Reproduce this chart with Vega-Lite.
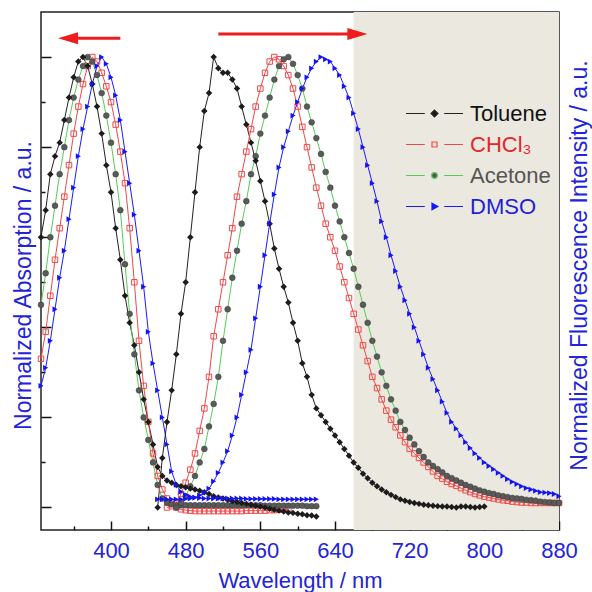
{
  "$schema": "https://vega.github.io/schema/vega-lite/v6.json",
  "width": 518,
  "height": 518,
  "autosize": {"type": "none"},
  "padding": {"left": 41, "top": 12, "right": 33, "bottom": 62},
  "background": "white",
  "config": {
    "view": {"stroke": "#222222", "strokeWidth": 1.5},
    "font": "Liberation Sans",
    "axis": {
      "grid": false, "domain": false, "tickColor": "#111111", "tickWidth": 1.5,
      "labelFont": "Liberation Sans", "titleFont": "Liberation Sans",
      "labelColor": "#2323d8", "titleColor": "#2323d8", "titleFontWeight": "normal",
      "labelFontSize": 22, "titleFontSize": 22, "labelOverlap": false, "labelFlush": false, "labelBound": false
    }
  },
  "datasets": {
    "shade": [{"start": 660, "end": 880}],
    "arrows": [
      {"dir": "left", "from": 410, "to": 358, "head": 354, "y": 1.042},
      {"dir": "right", "from": 515, "to": 658, "head": 664, "y": 1.051}
    ],
    "spectra": [
      {"kind": "abs", "wl": 325, "Toluene": 0.60, "CHCl3": 0.33, "Acetone": 0.45, "DMSO": 0.27},
      {"kind": "abs", "wl": 330, "Toluene": 0.66, "CHCl3": 0.39, "Acetone": 0.52, "DMSO": 0.31},
      {"kind": "abs", "wl": 335, "Toluene": 0.74, "CHCl3": 0.47, "Acetone": 0.60, "DMSO": 0.37},
      {"kind": "abs", "wl": 340, "Toluene": 0.78, "CHCl3": 0.55, "Acetone": 0.67, "DMSO": 0.44},
      {"kind": "abs", "wl": 345, "Toluene": 0.81, "CHCl3": 0.62, "Acetone": 0.74, "DMSO": 0.51},
      {"kind": "abs", "wl": 350, "Toluene": 0.86, "CHCl3": 0.69, "Acetone": 0.80, "DMSO": 0.57},
      {"kind": "abs", "wl": 355, "Toluene": 0.91, "CHCl3": 0.76, "Acetone": 0.86, "DMSO": 0.64},
      {"kind": "abs", "wl": 360, "Toluene": 0.955, "CHCl3": 0.83, "Acetone": 0.91, "DMSO": 0.71},
      {"kind": "abs", "wl": 365, "Toluene": 0.99, "CHCl3": 0.89, "Acetone": 0.95, "DMSO": 0.78},
      {"kind": "abs", "wl": 370, "Toluene": 1.0, "CHCl3": 0.94, "Acetone": 0.98, "DMSO": 0.84},
      {"kind": "abs", "wl": 375, "Toluene": 0.98, "CHCl3": 0.98, "Acetone": 1.0, "DMSO": 0.89},
      {"kind": "abs", "wl": 380, "Toluene": 0.94, "CHCl3": 1.0, "Acetone": 0.99, "DMSO": 0.94},
      {"kind": "abs", "wl": 385, "Toluene": 0.89, "CHCl3": 0.99, "Acetone": 0.96, "DMSO": 0.98},
      {"kind": "abs", "wl": 390, "Toluene": 0.83, "CHCl3": 0.965, "Acetone": 0.92, "DMSO": 1.0},
      {"kind": "abs", "wl": 395, "Toluene": 0.76, "CHCl3": 0.935, "Acetone": 0.87, "DMSO": 0.985},
      {"kind": "abs", "wl": 400, "Toluene": 0.70, "CHCl3": 0.90, "Acetone": 0.81, "DMSO": 0.955},
      {"kind": "abs", "wl": 405, "Toluene": 0.62, "CHCl3": 0.85, "Acetone": 0.74, "DMSO": 0.915},
      {"kind": "abs", "wl": 410, "Toluene": 0.55, "CHCl3": 0.79, "Acetone": 0.66, "DMSO": 0.86},
      {"kind": "abs", "wl": 415, "Toluene": 0.47, "CHCl3": 0.72, "Acetone": 0.54, "DMSO": 0.79},
      {"kind": "abs", "wl": 420, "Toluene": 0.41, "CHCl3": 0.62, "Acetone": 0.43, "DMSO": 0.72},
      {"kind": "abs", "wl": 425, "Toluene": 0.36, "CHCl3": 0.50, "Acetone": 0.34, "DMSO": 0.65},
      {"kind": "abs", "wl": 430, "Toluene": 0.30, "CHCl3": 0.37, "Acetone": 0.26, "DMSO": 0.57},
      {"kind": "abs", "wl": 435, "Toluene": 0.24, "CHCl3": 0.27, "Acetone": 0.20, "DMSO": 0.49},
      {"kind": "abs", "wl": 440, "Toluene": 0.19, "CHCl3": 0.19, "Acetone": 0.15, "DMSO": 0.39},
      {"kind": "abs", "wl": 445, "Toluene": 0.14, "CHCl3": 0.12, "Acetone": 0.10, "DMSO": 0.32},
      {"kind": "abs", "wl": 450, "Toluene": 0.09, "CHCl3": 0.07, "Acetone": 0.05, "DMSO": 0.26},
      {"kind": "abs", "wl": 455, "Toluene": 0.07, "CHCl3": 0.04, "Acetone": 0.02, "DMSO": 0.20},
      {"kind": "abs", "wl": 460, "Toluene": 0.06, "CHCl3": 0.02, "Acetone": 0.01, "DMSO": 0.14},
      {"kind": "abs", "wl": 465, "Toluene": 0.055, "CHCl3": 0.008, "Acetone": 0.007, "DMSO": 0.08},
      {"kind": "abs", "wl": 470, "Toluene": 0.05, "CHCl3": 0.0, "Acetone": 0.005, "DMSO": 0.05},
      {"kind": "abs", "wl": 475, "Toluene": 0.047, "CHCl3": -0.004, "Acetone": 0.005, "DMSO": 0.035},
      {"kind": "abs", "wl": 480, "Toluene": 0.045, "CHCl3": -0.006, "Acetone": 0.005, "DMSO": 0.028},
      {"kind": "abs", "wl": 485, "Toluene": 0.042, "CHCl3": -0.007, "Acetone": 0.005, "DMSO": 0.024},
      {"kind": "abs", "wl": 490, "Toluene": 0.04, "CHCl3": -0.008, "Acetone": 0.005, "DMSO": 0.022},
      {"kind": "abs", "wl": 495, "Toluene": 0.037, "CHCl3": -0.008, "Acetone": 0.005, "DMSO": 0.021},
      {"kind": "abs", "wl": 500, "Toluene": 0.034, "CHCl3": -0.008, "Acetone": 0.005, "DMSO": 0.02},
      {"kind": "abs", "wl": 505, "Toluene": 0.03, "CHCl3": -0.008, "Acetone": 0.005, "DMSO": 0.02},
      {"kind": "abs", "wl": 510, "Toluene": 0.025, "CHCl3": -0.008, "Acetone": 0.005, "DMSO": 0.02},
      {"kind": "abs", "wl": 515, "Toluene": 0.022, "CHCl3": -0.008, "Acetone": 0.005, "DMSO": 0.02},
      {"kind": "abs", "wl": 520, "Toluene": 0.02, "CHCl3": -0.008, "Acetone": 0.005, "DMSO": 0.02},
      {"kind": "abs", "wl": 525, "Toluene": 0.017, "CHCl3": -0.008, "Acetone": 0.005, "DMSO": 0.02},
      {"kind": "abs", "wl": 530, "Toluene": 0.014, "CHCl3": -0.008, "Acetone": 0.005, "DMSO": 0.02},
      {"kind": "abs", "wl": 535, "Toluene": 0.012, "CHCl3": -0.008, "Acetone": 0.005, "DMSO": 0.02},
      {"kind": "abs", "wl": 540, "Toluene": 0.01, "CHCl3": -0.008, "Acetone": 0.005, "DMSO": 0.02},
      {"kind": "abs", "wl": 545, "Toluene": 0.008, "CHCl3": -0.007, "Acetone": 0.005, "DMSO": 0.019},
      {"kind": "abs", "wl": 550, "Toluene": 0.006, "CHCl3": -0.007, "Acetone": 0.005, "DMSO": 0.019},
      {"kind": "abs", "wl": 555, "Toluene": 0.004, "CHCl3": -0.007, "Acetone": 0.005, "DMSO": 0.019},
      {"kind": "abs", "wl": 560, "Toluene": 0.002, "CHCl3": -0.007, "Acetone": 0.005, "DMSO": 0.019},
      {"kind": "abs", "wl": 565, "Toluene": 0.0, "CHCl3": -0.007, "Acetone": 0.004, "DMSO": 0.019},
      {"kind": "abs", "wl": 570, "Toluene": -0.003, "CHCl3": -0.006, "Acetone": 0.004, "DMSO": 0.019},
      {"kind": "abs", "wl": 575, "Toluene": -0.005, "CHCl3": -0.006, "Acetone": 0.004, "DMSO": 0.019},
      {"kind": "abs", "wl": 580, "Toluene": -0.007, "CHCl3": -0.005, "Acetone": 0.004, "DMSO": 0.018},
      {"kind": "abs", "wl": 585, "Toluene": -0.009, "CHCl3": -0.005, "Acetone": 0.004, "DMSO": 0.018},
      {"kind": "abs", "wl": 590, "Toluene": -0.011, "CHCl3": -0.004, "Acetone": 0.004, "DMSO": 0.018},
      {"kind": "abs", "wl": 595, "Toluene": -0.012, "Acetone": 0.004, "DMSO": 0.018},
      {"kind": "abs", "wl": 600, "Toluene": -0.014, "Acetone": 0.004, "DMSO": 0.018},
      {"kind": "abs", "wl": 605, "Toluene": -0.015, "Acetone": 0.004, "DMSO": 0.018},
      {"kind": "abs", "wl": 610, "Toluene": -0.017, "Acetone": 0.003, "DMSO": 0.018},
      {"kind": "abs", "wl": 615, "Toluene": -0.018, "Acetone": 0.003, "DMSO": 0.018},
      {"kind": "abs", "wl": 620, "Toluene": -0.02, "Acetone": 0.003, "DMSO": 0.018},
      {"kind": "fl", "wl": 450, "Toluene": 0.0, "DMSO": 0.018},
      {"kind": "fl", "wl": 455, "Toluene": 0.11, "DMSO": 0.018},
      {"kind": "fl", "wl": 460, "Toluene": 0.19, "CHCl3": 0.0, "DMSO": 0.018},
      {"kind": "fl", "wl": 465, "Toluene": 0.26, "CHCl3": 0.003, "DMSO": 0.018},
      {"kind": "fl", "wl": 470, "Toluene": 0.34, "CHCl3": 0.01, "Acetone": 0.0, "DMSO": 0.018},
      {"kind": "fl", "wl": 475, "Toluene": 0.43, "CHCl3": 0.03, "Acetone": 0.01, "DMSO": 0.018},
      {"kind": "fl", "wl": 480, "Toluene": 0.50, "CHCl3": 0.055, "Acetone": 0.025, "DMSO": 0.019},
      {"kind": "fl", "wl": 485, "Toluene": 0.60, "CHCl3": 0.084, "Acetone": 0.047, "DMSO": 0.02},
      {"kind": "fl", "wl": 490, "Toluene": 0.70, "CHCl3": 0.12, "Acetone": 0.07, "DMSO": 0.022},
      {"kind": "fl", "wl": 495, "Toluene": 0.80, "CHCl3": 0.17, "Acetone": 0.10, "DMSO": 0.027},
      {"kind": "fl", "wl": 500, "Toluene": 0.88, "CHCl3": 0.22, "Acetone": 0.13, "DMSO": 0.033},
      {"kind": "fl", "wl": 505, "Toluene": 0.92, "CHCl3": 0.29, "Acetone": 0.18, "DMSO": 0.042},
      {"kind": "fl", "wl": 510, "Toluene": 1.0, "CHCl3": 0.38, "Acetone": 0.23, "DMSO": 0.058},
      {"kind": "fl", "wl": 515, "Toluene": 0.975, "CHCl3": 0.44, "Acetone": 0.29, "DMSO": 0.077},
      {"kind": "fl", "wl": 520, "Toluene": 0.965, "CHCl3": 0.50, "Acetone": 0.37, "DMSO": 0.10},
      {"kind": "fl", "wl": 525, "Toluene": 0.965, "CHCl3": 0.56, "Acetone": 0.44, "DMSO": 0.125},
      {"kind": "fl", "wl": 530, "Toluene": 0.95, "CHCl3": 0.62, "Acetone": 0.51, "DMSO": 0.16},
      {"kind": "fl", "wl": 535, "Toluene": 0.93, "CHCl3": 0.69, "Acetone": 0.57, "DMSO": 0.20},
      {"kind": "fl", "wl": 540, "Toluene": 0.89, "CHCl3": 0.74, "Acetone": 0.63, "DMSO": 0.25},
      {"kind": "fl", "wl": 545, "Toluene": 0.85, "CHCl3": 0.79, "Acetone": 0.68, "DMSO": 0.30},
      {"kind": "fl", "wl": 550, "Toluene": 0.81, "CHCl3": 0.84, "Acetone": 0.74, "DMSO": 0.35},
      {"kind": "fl", "wl": 555, "Toluene": 0.77, "CHCl3": 0.89, "Acetone": 0.78, "DMSO": 0.42},
      {"kind": "fl", "wl": 560, "Toluene": 0.725, "CHCl3": 0.93, "Acetone": 0.83, "DMSO": 0.49},
      {"kind": "fl", "wl": 565, "Toluene": 0.68, "CHCl3": 0.965, "Acetone": 0.87, "DMSO": 0.56},
      {"kind": "fl", "wl": 570, "Toluene": 0.63, "CHCl3": 0.99, "Acetone": 0.91, "DMSO": 0.63},
      {"kind": "fl", "wl": 575, "Toluene": 0.575, "CHCl3": 1.0, "Acetone": 0.95, "DMSO": 0.695},
      {"kind": "fl", "wl": 580, "Toluene": 0.53, "CHCl3": 0.995, "Acetone": 0.98, "DMSO": 0.755},
      {"kind": "fl", "wl": 585, "Toluene": 0.49, "CHCl3": 0.98, "Acetone": 0.995, "DMSO": 0.80},
      {"kind": "fl", "wl": 590, "Toluene": 0.455, "CHCl3": 0.96, "Acetone": 1.0, "DMSO": 0.835},
      {"kind": "fl", "wl": 595, "Toluene": 0.41, "CHCl3": 0.93, "Acetone": 0.985, "DMSO": 0.87},
      {"kind": "fl", "wl": 600, "Toluene": 0.37, "CHCl3": 0.89, "Acetone": 0.96, "DMSO": 0.90},
      {"kind": "fl", "wl": 605, "Toluene": 0.32, "CHCl3": 0.845, "Acetone": 0.93, "DMSO": 0.93},
      {"kind": "fl", "wl": 610, "Toluene": 0.29, "CHCl3": 0.80, "Acetone": 0.89, "DMSO": 0.955},
      {"kind": "fl", "wl": 615, "Toluene": 0.25, "CHCl3": 0.755, "Acetone": 0.855, "DMSO": 0.975},
      {"kind": "fl", "wl": 620, "Toluene": 0.22, "CHCl3": 0.71, "Acetone": 0.82, "DMSO": 0.99},
      {"kind": "fl", "wl": 625, "Toluene": 0.205, "CHCl3": 0.67, "Acetone": 0.785, "DMSO": 1.0},
      {"kind": "fl", "wl": 630, "Toluene": 0.19, "CHCl3": 0.63, "Acetone": 0.745, "DMSO": 0.995},
      {"kind": "fl", "wl": 635, "Toluene": 0.175, "CHCl3": 0.60, "Acetone": 0.71, "DMSO": 0.99},
      {"kind": "fl", "wl": 640, "Toluene": 0.16, "CHCl3": 0.57, "Acetone": 0.67, "DMSO": 0.975},
      {"kind": "fl", "wl": 645, "Toluene": 0.145, "CHCl3": 0.535, "Acetone": 0.635, "DMSO": 0.96},
      {"kind": "fl", "wl": 650, "Toluene": 0.13, "CHCl3": 0.50, "Acetone": 0.60, "DMSO": 0.935},
      {"kind": "fl", "wl": 655, "Toluene": 0.115, "CHCl3": 0.465, "Acetone": 0.565, "DMSO": 0.91},
      {"kind": "fl", "wl": 660, "Toluene": 0.10, "CHCl3": 0.43, "Acetone": 0.53, "DMSO": 0.875},
      {"kind": "fl", "wl": 665, "Toluene": 0.088, "CHCl3": 0.395, "Acetone": 0.49, "DMSO": 0.84},
      {"kind": "fl", "wl": 670, "Toluene": 0.075, "CHCl3": 0.36, "Acetone": 0.45, "DMSO": 0.80},
      {"kind": "fl", "wl": 675, "Toluene": 0.065, "CHCl3": 0.325, "Acetone": 0.41, "DMSO": 0.76},
      {"kind": "fl", "wl": 680, "Toluene": 0.055, "CHCl3": 0.29, "Acetone": 0.37, "DMSO": 0.72},
      {"kind": "fl", "wl": 685, "Toluene": 0.047, "CHCl3": 0.265, "Acetone": 0.335, "DMSO": 0.68},
      {"kind": "fl", "wl": 690, "Toluene": 0.04, "CHCl3": 0.24, "Acetone": 0.30, "DMSO": 0.635},
      {"kind": "fl", "wl": 695, "Toluene": 0.034, "CHCl3": 0.215, "Acetone": 0.27, "DMSO": 0.60},
      {"kind": "fl", "wl": 700, "Toluene": 0.028, "CHCl3": 0.195, "Acetone": 0.24, "DMSO": 0.56},
      {"kind": "fl", "wl": 705, "Toluene": 0.023, "CHCl3": 0.178, "Acetone": 0.215, "DMSO": 0.525},
      {"kind": "fl", "wl": 710, "Toluene": 0.018, "CHCl3": 0.16, "Acetone": 0.19, "DMSO": 0.49},
      {"kind": "fl", "wl": 715, "Toluene": 0.015, "CHCl3": 0.145, "Acetone": 0.172, "DMSO": 0.46},
      {"kind": "fl", "wl": 720, "Toluene": 0.012, "CHCl3": 0.13, "Acetone": 0.155, "DMSO": 0.43},
      {"kind": "fl", "wl": 725, "Toluene": 0.01, "CHCl3": 0.12, "Acetone": 0.14, "DMSO": 0.40},
      {"kind": "fl", "wl": 730, "Toluene": 0.008, "CHCl3": 0.11, "Acetone": 0.125, "DMSO": 0.37},
      {"kind": "fl", "wl": 735, "Toluene": 0.006, "CHCl3": 0.10, "Acetone": 0.112, "DMSO": 0.34},
      {"kind": "fl", "wl": 740, "Toluene": 0.005, "CHCl3": 0.09, "Acetone": 0.10, "DMSO": 0.31},
      {"kind": "fl", "wl": 745, "Toluene": 0.004, "CHCl3": 0.08, "Acetone": 0.092, "DMSO": 0.285},
      {"kind": "fl", "wl": 750, "Toluene": 0.003, "CHCl3": 0.07, "Acetone": 0.085, "DMSO": 0.26},
      {"kind": "fl", "wl": 755, "Toluene": 0.002, "CHCl3": 0.064, "Acetone": 0.078, "DMSO": 0.235},
      {"kind": "fl", "wl": 760, "Toluene": 0.002, "CHCl3": 0.057, "Acetone": 0.07, "DMSO": 0.21},
      {"kind": "fl", "wl": 765, "Toluene": 0.001, "CHCl3": 0.052, "Acetone": 0.065, "DMSO": 0.19},
      {"kind": "fl", "wl": 770, "Toluene": 0.0, "CHCl3": 0.048, "Acetone": 0.06, "DMSO": 0.175},
      {"kind": "fl", "wl": 775, "Toluene": 0.002, "CHCl3": 0.043, "Acetone": 0.055, "DMSO": 0.16},
      {"kind": "fl", "wl": 780, "Toluene": 0.002, "CHCl3": 0.038, "Acetone": 0.05, "DMSO": 0.145},
      {"kind": "fl", "wl": 785, "Toluene": 0.001, "CHCl3": 0.034, "Acetone": 0.046, "DMSO": 0.132},
      {"kind": "fl", "wl": 790, "Toluene": 0.0, "CHCl3": 0.03, "Acetone": 0.042, "DMSO": 0.12},
      {"kind": "fl", "wl": 795, "Toluene": 0.001, "CHCl3": 0.027, "Acetone": 0.038, "DMSO": 0.11},
      {"kind": "fl", "wl": 800, "Toluene": 0.002, "CHCl3": 0.024, "Acetone": 0.035, "DMSO": 0.10},
      {"kind": "fl", "wl": 805, "CHCl3": 0.022, "Acetone": 0.032, "DMSO": 0.092},
      {"kind": "fl", "wl": 810, "CHCl3": 0.02, "Acetone": 0.03, "DMSO": 0.085},
      {"kind": "fl", "wl": 815, "CHCl3": 0.018, "Acetone": 0.027, "DMSO": 0.077},
      {"kind": "fl", "wl": 820, "CHCl3": 0.016, "Acetone": 0.025, "DMSO": 0.07},
      {"kind": "fl", "wl": 825, "CHCl3": 0.015, "Acetone": 0.023, "DMSO": 0.063},
      {"kind": "fl", "wl": 830, "CHCl3": 0.013, "Acetone": 0.021, "DMSO": 0.057},
      {"kind": "fl", "wl": 835, "CHCl3": 0.012, "Acetone": 0.02, "DMSO": 0.052},
      {"kind": "fl", "wl": 840, "CHCl3": 0.011, "Acetone": 0.019, "DMSO": 0.047},
      {"kind": "fl", "wl": 845, "CHCl3": 0.011, "Acetone": 0.017, "DMSO": 0.043},
      {"kind": "fl", "wl": 850, "CHCl3": 0.01, "Acetone": 0.016, "DMSO": 0.04},
      {"kind": "fl", "wl": 855, "CHCl3": 0.01, "Acetone": 0.015, "DMSO": 0.037},
      {"kind": "fl", "wl": 860, "CHCl3": 0.01, "Acetone": 0.013, "DMSO": 0.034},
      {"kind": "fl", "wl": 865, "CHCl3": 0.01, "Acetone": 0.012, "DMSO": 0.033},
      {"kind": "fl", "wl": 870, "CHCl3": 0.01, "Acetone": 0.011, "DMSO": 0.032},
      {"kind": "fl", "wl": 875, "CHCl3": 0.01, "Acetone": 0.01, "DMSO": 0.03},
      {"kind": "fl", "wl": 880, "CHCl3": 0.01, "Acetone": 0.01, "DMSO": 0.025}
    ]
  },
  "resolve": {"axis": {"x": "independent", "y": "independent"}},
  "layer": [
    {
      "data": {"name": "shade"},
      "mark": {"type": "rect", "color": "#ebe8df"},
      "encoding": {
        "x": {
          "field": "start", "type": "quantitative",
          "scale": {"domain": [325, 880], "nice": false, "zero": false},
          "axis": {
            "orient": "bottom", "values": [400, 480, 560, 640, 720, 800, 880],
            "tickSize": -9, "labelPadding": 19,
            "title": "Wavelength / nm", "titleY": 57, "titleBaseline": "alphabetic"
          }
        },
        "x2": {"field": "end"}
      }
    },
    {
      "data": {"name": "spectra"},
      "transform": [
        {"filter": "datum.kind === 'abs'"},
        {"fold": ["Toluene", "CHCl3", "Acetone", "DMSO"], "as": ["solvent", "v"]},
        {"filter": "isValid(datum.v)"}
      ],
      "mark": {"type": "line", "strokeWidth": 1},
      "encoding": {
        "x": {
          "field": "wl", "type": "quantitative",
          "scale": {"domain": [325, 880], "nice": false, "zero": false},
          "axis": {"orient": "bottom", "values": [360, 440, 520, 600, 680, 760, 840], "tickSize": -4, "labels": false, "title": null}
        },
        "y": {
          "field": "v", "type": "quantitative",
          "scale": {"domain": [-0.05, 1.1], "nice": false, "zero": false},
          "axis": {
            "orient": "left", "values": [0, 0.2, 0.4, 0.6, 0.8, 1.0], "tickSize": -10, "labels": false,
            "title": "Normalized Absorption / a.u.", "titleFontSize": 23, "titleAngle": -90,
            "titleX": -11, "titleY": 273, "titleBaseline": "alphabetic", "titleAlign": "center"
          }
        },
        "color": {
          "field": "solvent", "type": "nominal",
          "scale": {"domain": ["Toluene", "CHCl3", "Acetone", "DMSO"], "range": ["#222222", "#f04848", "#55cc55", "#1a1aff"]},
          "legend": {
            "orient": "none", "legendX": 381, "legendY": 89, "title": null, "padding": 0,
            "labelFont": "Liberation Sans", "labelFontSize": 22, "labelOffset": 23, "rowPadding": 7,
            "symbolSize": 520, "symbolStrokeWidth": 1.2, "symbolOpacity": 1,
            "symbolType": {"expr": "datum.value === 'Toluene' ? 'M-2.5,0H-0.85M0.85,0H2.5M0,-0.3L0.3,0L0,0.3L-0.3,0Z' : datum.value === 'CHCl3' ? 'M-2.5,0H-0.85M0.85,0H2.5M-0.22,-0.22H0.22V0.22H-0.22Z' : datum.value === 'Acetone' ? 'M-2.5,0H-0.85M0.85,0H2.5M-0.25,0A0.25,0.25,0,1,1,0.25,0A0.25,0.25,0,1,1,-0.25,0Z' : 'M-2.5,0H-0.85M0.85,0H2.5M-0.22,-0.28L0.3,0L-0.22,0.28Z'"},
            "symbolFillColor": {"expr": "datum.value === 'Toluene' ? '#1a1a1a' : datum.value === 'CHCl3' ? 'transparent' : datum.value === 'Acetone' ? '#555555' : '#1414f0'"},
            "labelColor": {"expr": "datum.value === 'Toluene' ? '#111111' : datum.value === 'CHCl3' ? '#e32626' : datum.value === 'Acetone' ? '#555555' : '#1f1fd6'"},
            "labelExpr": "datum.label === 'CHCl3' ? 'CHCl₃' : datum.label"
          }
        }
      }
    },
    {
      "data": {"name": "spectra"},
      "transform": [
        {"filter": "datum.kind === 'fl'"},
        {"fold": ["Toluene", "CHCl3", "Acetone", "DMSO"], "as": ["solvent", "v"]},
        {"filter": "isValid(datum.v)"}
      ],
      "mark": {"type": "line", "strokeWidth": 1},
      "encoding": {
        "x": {"field": "wl", "type": "quantitative", "axis": null},
        "y": {
          "field": "v", "type": "quantitative",
          "axis": {
            "orient": "right", "ticks": false, "labels": false,
            "title": "Normalized Fluorescence Intensity / a.u.", "titleFontSize": 23, "titleAngle": -90,
            "titleX": 27.5, "titleY": 253, "titleBaseline": "alphabetic", "titleAlign": "center"
          }
        },
        "color": {
          "field": "solvent", "type": "nominal",
          "scale": {"domain": ["Toluene", "CHCl3", "Acetone", "DMSO"], "range": ["#222222", "#f04848", "#55cc55", "#1a1aff"]}
        }
      }
    },
    {
      "data": {"name": "spectra"},
      "transform": [
        {"fold": ["Toluene", "CHCl3", "Acetone", "DMSO"], "as": ["solvent", "v"]},
        {"filter": "datum.solvent === 'CHCl3' && isValid(datum.v)"}
      ],
      "mark": {"type": "point", "shape": "square", "filled": false, "stroke": "#f04848", "strokeWidth": 1, "size": 30, "opacity": 1},
      "encoding": {
        "x": {"field": "wl", "type": "quantitative", "axis": null},
        "y": {"field": "v", "type": "quantitative", "axis": {"orient": "left", "values": [0.1, 0.3, 0.5, 0.7, 0.9], "tickSize": -4, "labels": false, "title": null}}
      }
    },
    {
      "data": {"name": "spectra"},
      "transform": [
        {"fold": ["Toluene", "CHCl3", "Acetone", "DMSO"], "as": ["solvent", "v"]},
        {"filter": "datum.solvent === 'Acetone' && isValid(datum.v)"}
      ],
      "mark": {"type": "point", "shape": "circle", "filled": true, "fill": "#5a5a5a", "stroke": "#3a3a3a", "strokeWidth": 0.5, "size": 34, "opacity": 1},
      "encoding": {
        "x": {"field": "wl", "type": "quantitative", "axis": null},
        "y": {"field": "v", "type": "quantitative", "axis": null}
      }
    },
    {
      "data": {"name": "spectra"},
      "transform": [
        {"fold": ["Toluene", "CHCl3", "Acetone", "DMSO"], "as": ["solvent", "v"]},
        {"filter": "datum.solvent === 'Toluene' && isValid(datum.v)"}
      ],
      "mark": {"type": "point", "shape": "diamond", "filled": true, "fill": "#1c1c1c", "size": 42, "opacity": 1},
      "encoding": {
        "x": {"field": "wl", "type": "quantitative", "axis": null},
        "y": {"field": "v", "type": "quantitative", "axis": null}
      }
    },
    {
      "data": {"name": "spectra"},
      "transform": [
        {"fold": ["Toluene", "CHCl3", "Acetone", "DMSO"], "as": ["solvent", "v"]},
        {"filter": "datum.solvent === 'DMSO' && isValid(datum.v)"}
      ],
      "mark": {"type": "point", "shape": "triangle-right", "filled": true, "fill": "#1414f0", "size": 34, "opacity": 1},
      "encoding": {
        "x": {"field": "wl", "type": "quantitative", "axis": null},
        "y": {"field": "v", "type": "quantitative", "axis": null}
      }
    },
    {
      "data": {"name": "arrows"},
      "mark": {"type": "rule", "color": "#ee1c1c", "strokeWidth": 3},
      "encoding": {
        "x": {"field": "from", "type": "quantitative", "axis": null},
        "x2": {"field": "to"},
        "y": {"field": "y", "type": "quantitative", "axis": null}
      }
    },
    {
      "data": {"name": "arrows"},
      "mark": {"type": "point", "filled": true, "fill": "#ee1c1c", "size": 400, "opacity": 1, "strokeWidth": 0},
      "encoding": {
        "x": {"field": "head", "type": "quantitative", "axis": null},
        "y": {"field": "y", "type": "quantitative", "axis": null},
        "shape": {
          "field": "dir", "type": "nominal",
          "scale": {"domain": ["left", "right"], "range": ["M1,-0.6L-1,0L1,0.6Z", "M-1,-0.6L1,0L-1,0.6Z"]},
          "legend": null
        }
      }
    }
  ]
}
